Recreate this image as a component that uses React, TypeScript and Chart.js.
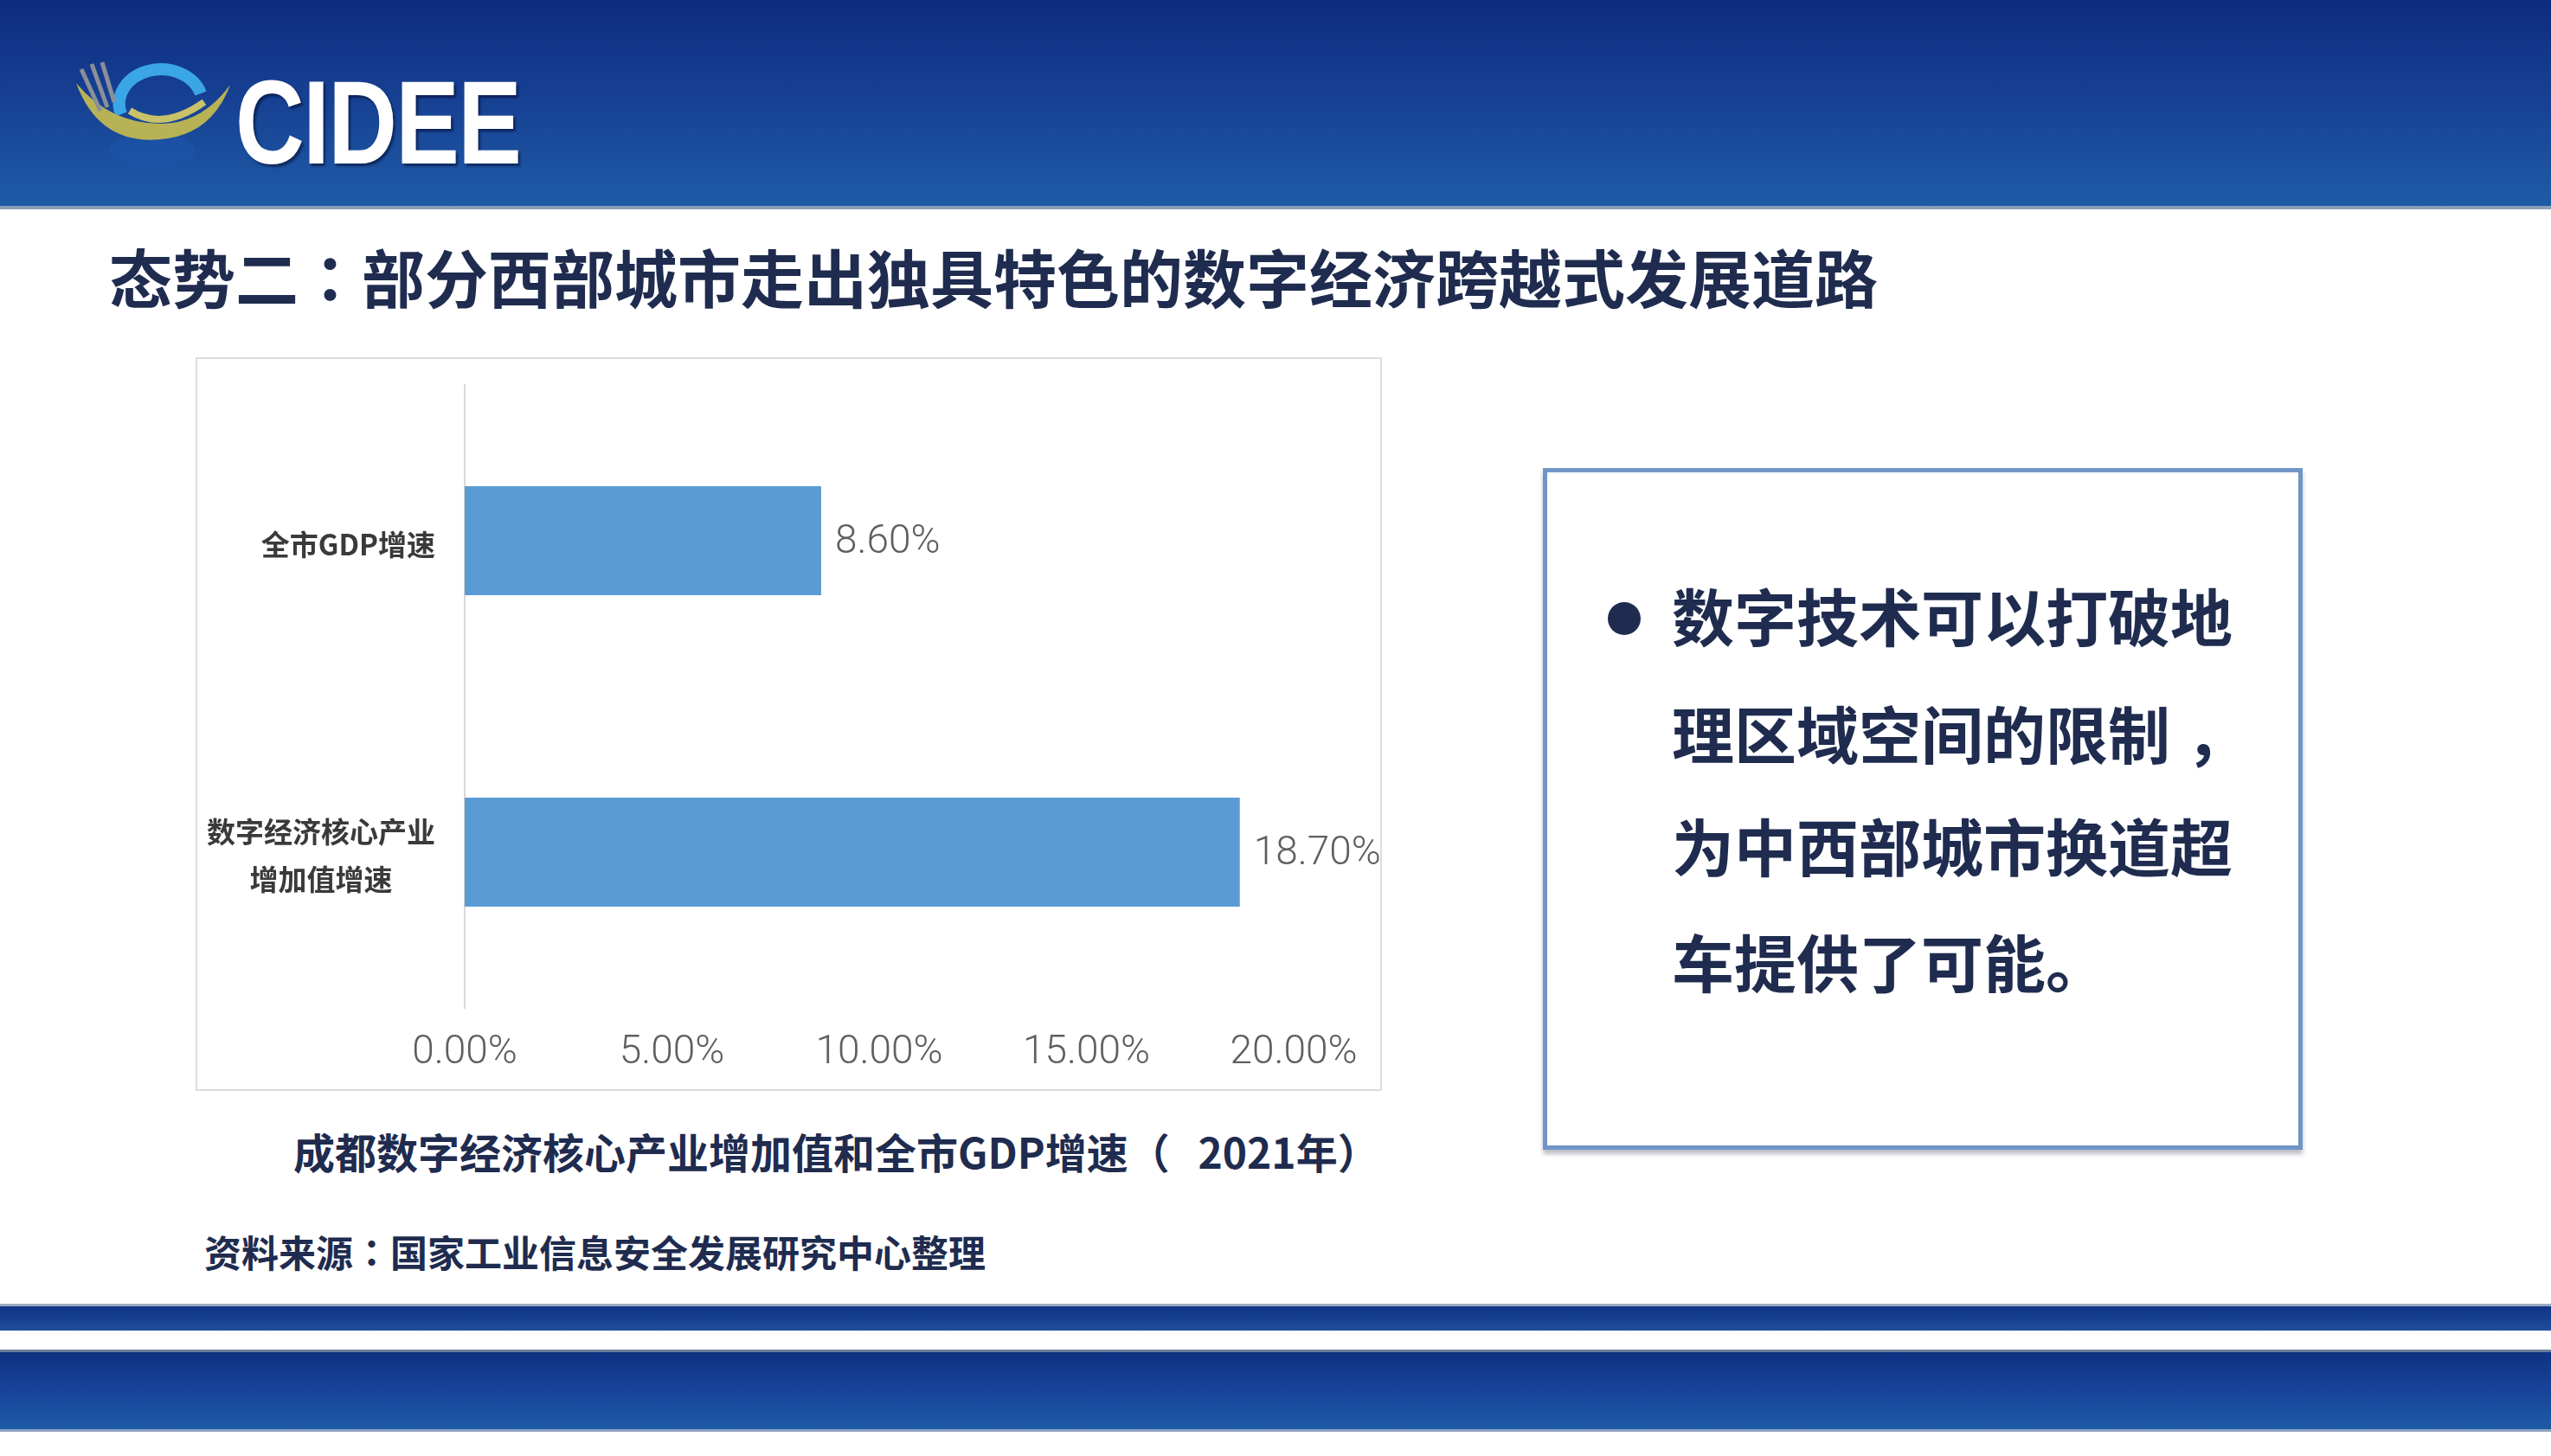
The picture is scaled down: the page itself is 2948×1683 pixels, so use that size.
import React, { useEffect, useRef } from "react";
import { Chart, registerables } from "chart.js";

Chart.register(...registerables);

// ---------- data ----------
const categoryLines: string[][] = [["全市GDP增速"], ["数字经济核心产业", "增加值增速"]];
const growthValues: number[] = [8.6, 18.7];
const xTickMin = 0;
const xTickMax = 20;
const xTickStep = 5;

const titleParts: string[] = ["态势二", "：", "部分西部城市走出独具特色的数字经济跨越式发展道路"];
const captionText = "成都数字经济核心产业增加值和全市GDP增速（   2021年）";
const sourceParts: string[] = ["资料来源", "：", "国家工业信息安全发展研究中心整理"];
const bulletLines: string[][] = [["数字技术可以打破地", ""], ["理区域空间的限制", "，"], ["为中西部城市换道超", ""], ["车提供了可能", "。"]];

const NUM_FONT = '"Liberation Sans Narrow", Roboto, "DejaVu Sans", sans-serif';
const CJK_FONT = '"Noto Sans CJK SC", "Noto Sans", sans-serif';
const PUNCT_FONT = '"Noto Sans CJK TC", "Noto Sans CJK SC", sans-serif';
const NAVY = "#1f2c4f";

const labelPlugin = {
  id: "customLabels",
  afterDatasetsDraw(chart: any) {
    const ctx = chart.ctx as CanvasRenderingContext2D;
    const meta = chart.getDatasetMeta(0);
    ctx.save();
    ctx.font = `300 46px ${NUM_FONT}`;
    ctx.fillStyle = "#5f5f5f";
    ctx.textAlign = "left";
    ctx.textBaseline = "middle";
    meta.data.forEach((bar: any, i: number) => {
      ctx.fillText(growthValues[i].toFixed(2) + "%", bar.x + 16, bar.y + 2);
    });
    const ys = chart.scales.y;
    ctx.font = `bold 33px ${CJK_FONT}`;
    ctx.fillStyle = "#3a3a3a";
    ctx.textAlign = "center";
    const right = chart.chartArea.left - 34;
    const lh = 55;
    categoryLines.forEach((lines, i) => {
      const cy = ys.getPixelForValue(i);
      const widths = lines.map((l) => ctx.measureText(l).width);
      const maxW = Math.max(...widths);
      const cx = right - maxW / 2;
      lines.forEach((l, j) => {
        ctx.fillText(l, cx, cy + 4 + (j - (lines.length - 1) / 2) * lh);
      });
    });
    ctx.restore();
  },
};

function BarChart() {
  const ref = useRef<HTMLCanvasElement | null>(null);
  useEffect(() => {
    if (!ref.current) return;
    const chart = new Chart(ref.current, {
      type: "bar",
      data: {
        labels: categoryLines.map((l) => l.join("")),
        datasets: [
          {
            data: growthValues,
            backgroundColor: "#5b9bd5",
            borderWidth: 0,
            barPercentage: 0.35,
            categoryPercentage: 1,
          },
        ],
      },
      options: {
        indexAxis: "y",
        animation: false,
        responsive: false,
        maintainAspectRatio: false,
        layout: { padding: { left: 311, right: 102, top: 32, bottom: 0 } },
        plugins: {
          legend: { display: false },
          tooltip: { enabled: false },
        },
        scales: {
          x: {
            min: xTickMin,
            max: xTickMax,
            grid: { display: false, drawTicks: false },
            border: { display: false },
            ticks: {
              stepSize: xTickStep,
              padding: 25,
              maxRotation: 0,
              color: "#5f5f5f",
              font: { family: NUM_FONT, size: 46, weight: 300 as any },
              callback: (v: any) => Number(v).toFixed(2) + "%",
            },
            afterFit: (s: any) => {
              s.height = 96;
            },
          },
          y: {
            grid: { display: false, drawTicks: false },
            border: { display: true, color: "#d9d9d9", width: 2 },
            ticks: { display: false },
            afterFit: (s: any) => {
              s.width = 0;
            },
          },
        },
      },
      plugins: [labelPlugin],
    });
    return () => chart.destroy();
  }, []);
  return <canvas ref={ref} width={1371} height={848} style={{ display: "block" }} />;
}

function Logo() {
  return (
    <svg width={210} height={150} viewBox="75 55 210 150" style={{ position: "absolute", left: 75, top: 55 }}>
      <ellipse cx={176} cy={174} rx={50} ry={20} fill="#1c52a8" opacity={0.7} />
      <path d="M 140 132 A 46 38 0 1 1 232 108" fill="none" stroke="#3aa6e6" strokeWidth={14} />
      <path d="M 88 96 Q 116 172 194 160 Q 246 152 266 98 Q 234 142 188 143 Q 128 144 88 96 Z" fill="#b8b256" />
      <path d="M 150 128 Q 188 152 236 118" fill="none" stroke="#c8c26a" strokeWidth={8} />
      <path d="M 94 80 L 116 128 M 106 74 L 124 124 M 118 72 L 132 118" stroke="#8a8f99" strokeWidth={5} />
    </svg>
  );
}

export default function App() {
  useEffect(() => {
    document.body.style.margin = "0";
  }, []);
  const abs = (l: number, t: number, extra: React.CSSProperties = {}): React.CSSProperties => ({
    position: "absolute",
    left: l,
    top: t,
    ...extra,
  });
  const punct: React.CSSProperties = { fontFamily: PUNCT_FONT };
  return (
    <div style={{ position: "absolute", left: 0, top: 0, width: 2948, height: 1683, background: "#ffffff", overflow: "hidden", fontFamily: CJK_FONT }}>
      {/* header */}
      <div style={abs(0, 0, { width: 2948, height: 238, background: "linear-gradient(180deg, #0d2c7f 0%, #163f92 45%, #1f5ba7 100%)" })} />
      <div style={abs(0, 238, { width: 2948, height: 4, background: "#8c9db6" })} />
      <Logo />
      <div
        style={abs(272, 66, {
          color: "#ffffff",
          fontFamily: '"Liberation Sans", Arial, sans-serif',
          fontSize: 138,
          fontWeight: 700,
          lineHeight: "150px",
          transform: "scaleX(0.8)",
          transformOrigin: "left center",
          textShadow: "3px 3px 3px rgba(0,0,30,0.5)",
          letterSpacing: -2,
        })}
      >
        CIDEE
      </div>

      {/* title */}
      <div style={abs(126, 324 - 58, { fontSize: 73, fontWeight: 700, color: NAVY, lineHeight: "104px", whiteSpace: "nowrap" })}>
        {titleParts[0]}
        <span style={punct}>{titleParts[1]}</span>
        {titleParts[2]}
      </div>

      {/* chart frame */}
      <div style={abs(226, 413, { width: 1371, height: 848, border: "2px solid #dcdcdc", boxSizing: "border-box" })} />
      <div style={abs(226, 413)}>
        <BarChart />
      </div>

      {/* caption and source */}
      <div style={abs(339, 1335 - 40, { fontSize: 48, fontWeight: 700, color: NAVY, lineHeight: "70px", whiteSpace: "pre" })}>{captionText}</div>
      <div style={abs(236, 1451 - 37, { fontSize: 43, fontWeight: 700, color: NAVY, lineHeight: "64px", whiteSpace: "pre" })}>
        {sourceParts[0]}
        <span style={punct}>{sourceParts[1]}</span>
        {sourceParts[2]}
      </div>

      {/* right text box */}
      <div
        style={abs(1783, 541, {
          width: 878,
          height: 788,
          border: "5px solid #7096c8",
          boxSizing: "border-box",
          boxShadow: "0 5px 5px rgba(60,70,90,0.35)",
          background: "#ffffff",
        })}
      />
      <div style={abs(1858, 696, { width: 38, height: 38, borderRadius: 19, background: NAVY })} />
      {bulletLines.map((line, i) => (
        <div
          key={i}
          style={abs(1932, [716, 852, 982, 1116][i] - 56, { fontSize: 72, fontWeight: 700, color: NAVY, lineHeight: "100px", whiteSpace: "nowrap" })}
        >
          {line[0]}
          <span style={{ paddingLeft: line[1] === "，" ? 18 : 0 }}>{line[1]}</span>
        </div>
      ))}

      {/* footer */}
      <div style={abs(0, 1507, { width: 2948, height: 3, background: "#9aaac0" })} />
      <div style={abs(0, 1510, { width: 2948, height: 28, background: "linear-gradient(180deg, #0f3386 0%, #1e4f9a 100%)" })} />
      <div style={abs(0, 1560, { width: 2948, height: 3, background: "#6c7d99" })} />
      <div style={abs(0, 1563, { width: 2948, height: 89, background: "linear-gradient(180deg, #0f3282 0%, #17449a 50%, #1f5aa6 100%)" })} />
      <div style={abs(0, 1652, { width: 2948, height: 3, background: "#8fa5c0" })} />
    </div>
  );
}
